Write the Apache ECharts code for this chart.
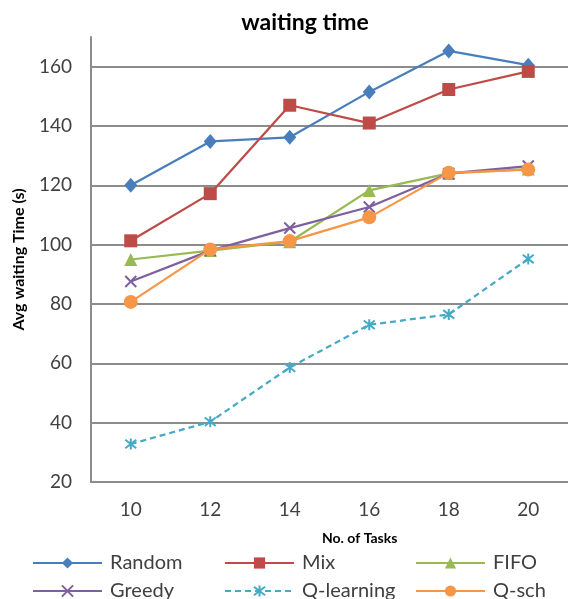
<!DOCTYPE html>
<html>
<head>
<meta charset="utf-8">
<script src="https://cdn.jsdelivr.net/npm/echarts@6/dist/echarts.min.js"></script>
<style>
  html, body { margin: 0; padding: 0; background: #ffffff; }
  #chart { width: 568px; height: 599px; }
</style>
</head>
<body>
<div id="chart"></div>
<script>
// Number of tasks on the x axis
const tasks = ['10', '12', '14', '16', '18', '20'];

// Average waiting time (s) for each scheduler
const randomTimes    = [120, 134.8, 136.2, 151.5, 165.3, 160.5];
const mixTimes       = [101.3, 117.2, 147, 141, 152.3, 158.4];
const fifoTimes      = [95, 98, 101, 118.3, 124, 125.5];
const greedyTimes    = [87.6, 98, 105.6, 112.7, 124, 126.5];
const qLearningTimes = [32.8, 40.3, 58.6, 73, 76.5, 95.2];
const qSchTimes      = [80.7, 98.4, 101.2, 109.2, 124.2, 125.3];

const yTicks = { min: 20, max: 170, step: 20 };

const FONT = 'Lato, "Open Sans", sans-serif';
const GRID_GRAY = '#8c8c8c';

const crossPath = 'path://M0,0L10,10M10,0L0,10';
const starPath = 'path://M0,0L10,10M10,0L0,10M5,-1.5L5,11.5';

function lineSeries(name, data, color, symbol, size, extra) {
  return Object.assign({
    name: name,
    type: 'line',
    data: data,
    symbol: symbol,
    symbolSize: size,
    showAllSymbol: true,
    lineStyle: { color: color, width: 2.25 },
    itemStyle: { color: color, borderColor: color, borderWidth: 0 },
    emphasis: { disabled: true },
    animation: false
  }, extra || {});
}

const series = [
  lineSeries('Random', randomTimes, '#4a7ebb', 'diamond', [13, 15]),
  lineSeries('Mix', mixTimes, '#be4b48', 'rect', 13),
  lineSeries('FIFO', fifoTimes, '#98b954', 'triangle', 13),
  lineSeries('Greedy', greedyTimes, '#7d60a0', crossPath, 11, {
    itemStyle: { color: 'none', borderColor: '#7d60a0', borderWidth: 2 }
  }),
  lineSeries('Q-learning', qLearningTimes, '#46aac5', starPath, 11, {
    lineStyle: { color: '#46aac5', width: 2.25, type: [6, 4] },
    itemStyle: { color: 'none', borderColor: '#46aac5', borderWidth: 2 }
  }),
  lineSeries('Q-sch', qSchTimes, '#f79646', 'circle', 14)
];

// One legend per entry so the entries sit in fixed columns
const legendSlots = [
  ['Random', 27, 548], ['Mix', 219, 548], ['FIFO', 410, 548],
  ['Greedy', 27, 576], ['Q-learning', 219, 576], ['Q-sch', 410, 576]
];
const legends = legendSlots.map(([name, left, top]) => ({
  data: [name],
  left: left,
  top: top,
  itemWidth: 69,
  itemHeight: 14,
  selectedMode: false,
  textStyle: { fontFamily: FONT, fontSize: 20, color: '#404040', padding: [0, 0, 0, 3] }
}));

const chart = echarts.init(document.getElementById('chart'), null, { renderer: 'canvas' });
chart.setOption({
  backgroundColor: '#ffffff',
  animation: false,
  title: {
    text: 'waiting time',
    left: 300,
    textAlign: 'center',
    top: 6,
    textStyle: { fontFamily: FONT, fontSize: 23, fontWeight: 'bold', color: '#000000' }
  },
  legend: legends,
  grid: { left: 91, top: 37, width: 480, height: 445, containLabel: false },
  xAxis: {
    type: 'category',
    data: tasks,
    boundaryGap: true,
    axisLine: { lineStyle: { color: GRID_GRAY, width: 2 } },
    axisTick: { show: false },
    axisLabel: { fontFamily: FONT, fontSize: 19, color: '#404040', margin: 18 },
    splitLine: { show: false }
  },
  yAxis: {
    type: 'value',
    min: yTicks.min,
    max: yTicks.max,
    interval: yTicks.step,
    name: 'Avg waiting Time (s)',
    nameLocation: 'middle',
    nameRotate: 90,
    nameGap: 64,
    nameTextStyle: { fontFamily: FONT, fontSize: 16, fontWeight: 'bold', color: '#000000' },
    axisLine: { show: true, lineStyle: { color: GRID_GRAY, width: 2 } },
    axisTick: { show: false },
    axisLabel: { fontFamily: FONT, fontSize: 19, color: '#404040', margin: 19, showMaxLabel: false },
    splitLine: { show: true, showMaxLine: false, lineStyle: { color: GRID_GRAY, width: 2 } }
  },
  graphic: [{
    type: 'text',
    left: 322,
    top: 531,
    style: {
      text: 'No. of Tasks',
      fontFamily: FONT,
      fontSize: 14,
      fontWeight: 'bold',
      fill: '#000000',
      textAlign: 'center'
    }
  }],
  series: series
});
</script>
</body>
</html>
